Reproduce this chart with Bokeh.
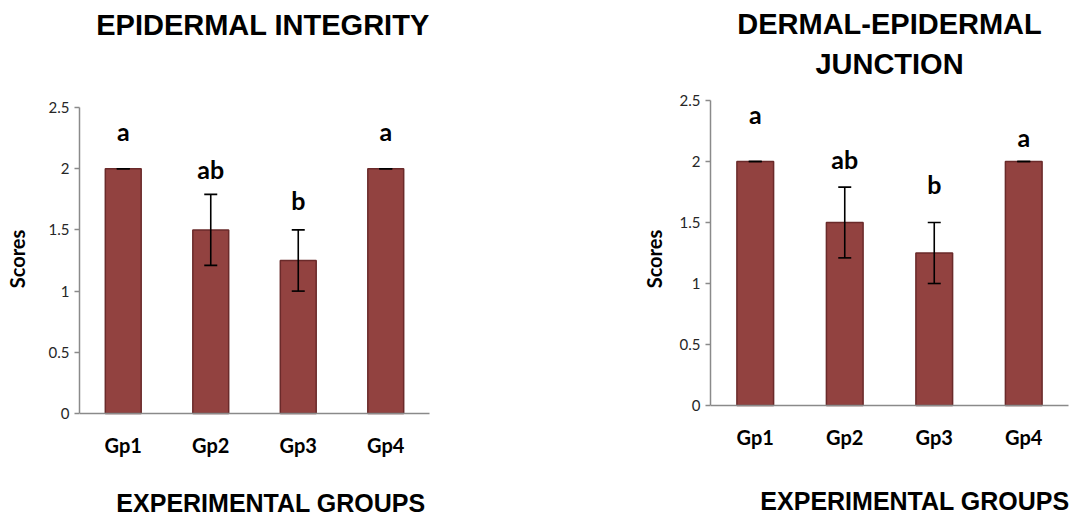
from bokeh.plotting import figure
from bokeh.layouts import row
from bokeh.models import (ColumnDataSource, Range1d, FixedTicker, Whisker,
                          TeeHead, Label)
from bokeh.core.properties import value
from bokeh.embed import file_html
from bokeh.resources import INLINE

# ---- data -------------------------------------------------------------
groups = ["Gp1", "Gp2", "Gp3", "Gp4"]

epidermal_mean = [2.0, 1.5, 1.25, 2.0]
epidermal_err = [0.0, 0.29, 0.25, 0.0]
epidermal_letters = ["a", "ab", "b", "a"]

junction_mean = [2.0, 1.5, 1.25, 2.0]
junction_err = [0.0, 0.29, 0.25, 0.0]
junction_letters = ["a", "ab", "b", "a"]

y_ticks = [0, 0.5, 1, 1.5, 2, 2.5]
y_tick_labels = ["0", "0.5", "1", "1.5", "2", "2.5"]

BAR_FILL = "#924240"
BAR_LINE = "#6a2a2a"
AXIS_GREY = "#8a8a8a"
HEAD_FONT = "Liberation Sans"
BODY_FONT = "Lato"
CANVAS_H = 517


class Panel:
    """One bar panel whose frame fills the canvas right of the score axis.

    Pixel arguments are page coordinates; `origin` is the page x of the
    panel's own left edge.
    """

    def __init__(self, origin, width, border_left, group_px, unit_px, zero_px):
        self.origin = origin
        self.width = width
        self.border_left = border_left
        self.group_px = group_px
        self.unit_px = unit_px
        self.zero_px = zero_px

    def y_at(self, px):
        return (self.zero_px - px) / self.unit_px

    def x_at(self, px):
        return (px - self.origin - self.border_left) / self.group_px


def head_label(p, x, y, text, size):
    p.add_layout(Label(x=x, y=y, text=text, text_align="center",
                       text_baseline="alphabetic", text_font=HEAD_FONT,
                       text_font_style="bold", text_font_size=size,
                       text_color="black"))


def panel(geo, means, errs, letters, lifts, ylabel_standoff):
    n = len(groups)
    x_end = (geo.width - geo.border_left) / geo.group_px
    p = figure(x_range=Range1d(0, x_end),
               y_range=Range1d(geo.y_at(CANVAS_H), geo.y_at(0)),
               width=geo.width, height=CANVAS_H,
               min_border_left=geo.border_left, min_border_right=0,
               min_border_top=0, min_border_bottom=0,
               output_backend="svg", toolbar_location=None, title=None)
    p.outline_line_color = None
    p.xgrid.grid_line_color = None
    p.ygrid.grid_line_color = None
    p.background_fill_color = "white"
    p.border_fill_color = "white"

    xs = [i + 0.5 for i in range(n)]
    upper = [m + e for m, e in zip(means, errs)]
    lower = [m - e for m, e in zip(means, errs)]
    src = ColumnDataSource(dict(x=xs, m=means, up=upper, lo=lower,
                                lab=letters, lift=[-v for v in lifts]))

    p.vbar(x="x", top="m", width=0.41, source=src,
           fill_color=BAR_FILL, line_color=BAR_LINE, line_width=1.5)

    # error bars sit on top of the bars
    p.add_layout(Whisker(base="x", upper="up", lower="lo", source=src,
                         level="annotation",
                         line_color="black", line_width=1.6,
                         upper_head=TeeHead(size=13, line_color="black",
                                            line_width=1.6),
                         lower_head=TeeHead(size=13, line_color="black",
                                            line_width=1.6)))

    p.text(x="x", y="up", text="lab", y_offset="lift", source=src,
           text_align="center", text_baseline="alphabetic",
           text_font=value(BODY_FONT), text_font_style="bold",
           text_font_size="25px", text_color="black")

    # y axis, drawn only over the score scale
    ya = p.yaxis[0]
    ya.ticker = FixedTicker(ticks=y_ticks)
    ya.bounds = (y_ticks[0], y_ticks[-1])
    ya.major_label_overrides = {t: s for t, s in zip(y_ticks, y_tick_labels)}
    ya.axis_line_color = AXIS_GREY
    ya.axis_line_width = 1.5
    ya.major_tick_line_color = AXIS_GREY
    ya.major_tick_line_width = 1.5
    ya.major_tick_in = 0
    ya.major_tick_out = 5
    ya.minor_tick_line_color = None
    ya.major_label_text_font = BODY_FONT
    ya.major_label_text_font_size = "15px"
    ya.major_label_text_color = "#262626"
    ya.major_label_standoff = 5
    ya.axis_label = "Scores"
    ya.axis_label_text_font = BODY_FONT
    ya.axis_label_text_font_style = "bold"
    ya.axis_label_text_font_size = "20px"
    ya.axis_label_text_color = "black"
    ya.axis_label_standoff = ylabel_standoff

    # group axis along the zero line
    xa = p.xaxis[0]
    xa.fixed_location = 0
    xa.bounds = (0, n)
    xa.ticker = FixedTicker(ticks=xs)
    xa.major_label_overrides = {x: g for x, g in zip(xs, groups)}
    xa.axis_line_color = AXIS_GREY
    xa.axis_line_width = 1.5
    xa.major_tick_line_color = None
    xa.minor_tick_line_color = None
    xa.major_label_text_font = BODY_FONT
    xa.major_label_text_font_style = "bold"
    xa.major_label_text_font_size = "20px"
    xa.major_label_text_color = "black"
    xa.major_label_standoff = 13
    return p


geo_l = Panel(0, 535, 79, 87.5, 122.4, 413)
left = panel(geo_l, epidermal_mean, epidermal_err, epidermal_letters,
             [38, 25, 30, 38], 17)
head_label(left, geo_l.x_at(262.5), geo_l.y_at(24),
           "EPIDERMAL INTEGRITY", "29px")
head_label(left, geo_l.x_at(270.5), geo_l.y_at(502),
           "EXPERIMENTAL GROUPS", "25px")

geo_r = Panel(535, 536, 175, 89.5, 122.0, 405)
right = panel(geo_r, junction_mean, junction_err, junction_letters,
              [48, 28, 39, 25], 11)
head_label(right, geo_r.x_at(889), geo_r.y_at(23),
           "DERMAL-EPIDERMAL", "29px")
head_label(right, geo_r.x_at(889), geo_r.y_at(63), "JUNCTION", "29px")
head_label(right, geo_r.x_at(914.5), geo_r.y_at(500),
           "EXPERIMENTAL GROUPS", "25px")

layout = row(left, right)
open("out.html", "w").write(file_html(layout, INLINE))
